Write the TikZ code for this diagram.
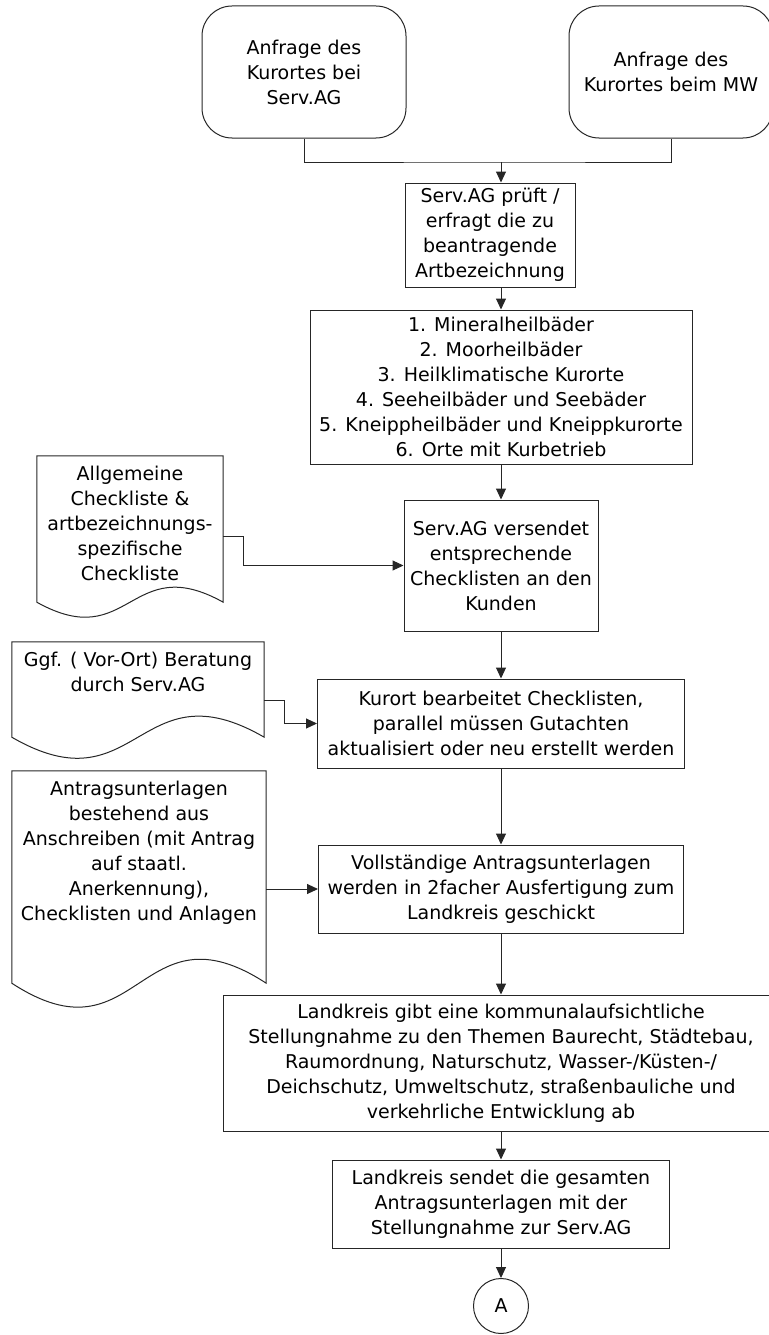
\documentclass[tikz,border=0pt]{standalone}
\usepackage{fontspec}
\setmainfont{DejaVu Sans}
\usetikzlibrary{arrows.meta,calc}
\tikzstyle{term}=[rectangle,rounded corners=30pt,draw=black!85,line width=1pt,
  minimum width=204pt,minimum height=132pt,align=center,inner sep=2pt]
\tikzstyle{proc}=[rectangle,draw=black!85,line width=1pt,align=center,inner sep=2pt]
\tikzstyle{doc}=[rectangle,inner sep=0pt]
\tikzstyle{doctext}=[anchor=north,align=center,inner sep=0pt,yshift=-10pt]
\tikzstyle{conn}=[circle,draw=black!85,line width=1pt,minimum size=55pt,inner sep=0pt]
\tikzstyle{wire}=[draw=black!85,line width=1pt]
\tikzstyle{arr}=[draw=black!85,line width=1pt,-{Triangle[length=11pt,width=10pt]}]
\tikzstyle{none}=[]

\begin{document}
\begin{tikzpicture}[x=1pt, y=-1pt, font=\fontsize{19}{25}\selectfont]
		\useasboundingbox (0, 0) rectangle (768, 1335);
		\node [style=term] (0) at (304, 72) {Anfrage des\\Kurortes bei\\Serv.AG};
		\node [style=term] (1) at (671, 72) {Anfrage des\\Kurortes beim MW};
		\coordinate (13) at (501, 162);
		\node [style=proc, minimum width=170pt, minimum height=104pt] (2) at (490, 235) {Serv.AG prüft /\\erfragt die zu\\beantragende\\Artbezeichnung};
		\node [style=proc, minimum width=382pt, minimum height=154pt] (3) at (501, 387) {1. Mineralheilbäder\\2. Moorheilbäder\\3. Heilklimatische Kurorte\\4. Seeheilbäder und Seebäder\\5. Kneippheilbäder und Kneippkurorte\\6. Orte mit Kurbetrieb};
		\node [style=doc, minimum width=186pt, minimum height=161pt, label={[style=doctext]north:Allgemeine\\Checkliste \&\\artbezeichnungs-\\spezifische\\Checkliste}] (4) at (130, 536.5) {};
		\node [style=proc, minimum width=194pt, minimum height=131pt] (5) at (501, 565.5) {Serv.AG versendet\\entsprechende\\Checklisten an den\\Kunden};
		\node [style=doc, minimum width=252pt, minimum height=116pt, label={[style=doctext]north:Ggf. ( Vor-Ort) Beratung\\durch Serv.AG}] (6) at (138, 700) {};
		\node [style=proc, minimum width=367pt, minimum height=89pt] (7) at (501, 723.5) {Kurort bearbeitet Checklisten,\\parallel müssen Gutachten\\aktualisiert oder neu erstellt werden};
		\node [style=doc, minimum width=254pt, minimum height=236pt, label={[style=doctext]north:Antragsunterlagen\\bestehend aus\\Anschreiben (mit Antrag\\auf staatl.\\Anerkennung),\\Checklisten und Anlagen}] (8) at (139, 889) {};
		\node [style=proc, minimum width=365pt, minimum height=88pt] (9) at (501, 889) {Vollständige Antragsunterlagen\\werden in 2facher Ausfertigung zum\\Landkreis geschickt};
		\node [style=proc, minimum width=556pt, minimum height=136pt] (10) at (501, 1063) {Landkreis gibt eine kommunalaufsichtliche\\Stellungnahme zu den Themen Baurecht, Städtebau,\\Raumordnung, Naturschutz, Wasser-/Küsten-/\\Deichschutz, Umweltschutz, straßenbauliche und\\verkehrliche Entwicklung ab};
		\node [style=proc, minimum width=337pt, minimum height=88pt] (11) at (501, 1204) {Landkreis sendet die gesamten\\Antragsunterlagen mit der\\Stellungnahme zur Serv.AG};
		\node [style=conn] (12) at (501, 1306) {A};
		% document outlines with wavy bottom
		\foreach \n/\a/\k in {4/15/52, 6/21/73, 8/24/83}
			\draw [style=wire] (\n.north west) -- (\n.north east) -- ($(\n.south east)+(0,-\a)$)
				.. controls ($(\n.south)+(0,-\a-\k)$) and ($(\n.south)+(0,\k-\a)$) .. ($(\n.south west)+(0,-\a)$) -- cycle;
		\draw [style=wire] (0.south) |- (13) -| (1.south);
		\draw [style=arr] (13) to (2.north -| 13);
		\draw [style=arr] (2.south -| 13) to (3.north);
		\draw [style=arr] (3) to (5);
		\draw [style=arr] (4.east) -- ++(20, 0) |- (5.west);
		\draw [style=arr] (5) to (7);
		\draw [style=arr] (6.east) -- ++(20, 0) |- (7.west);
		\draw [style=arr] (7) to (9);
		\draw [style=arr] (8.east) to (9.west);
		\draw [style=arr] (9) to (10);
		\draw [style=arr] (10) to (11);
		\draw [style=arr] (11) to (12);
\end{tikzpicture}
\end{document}
